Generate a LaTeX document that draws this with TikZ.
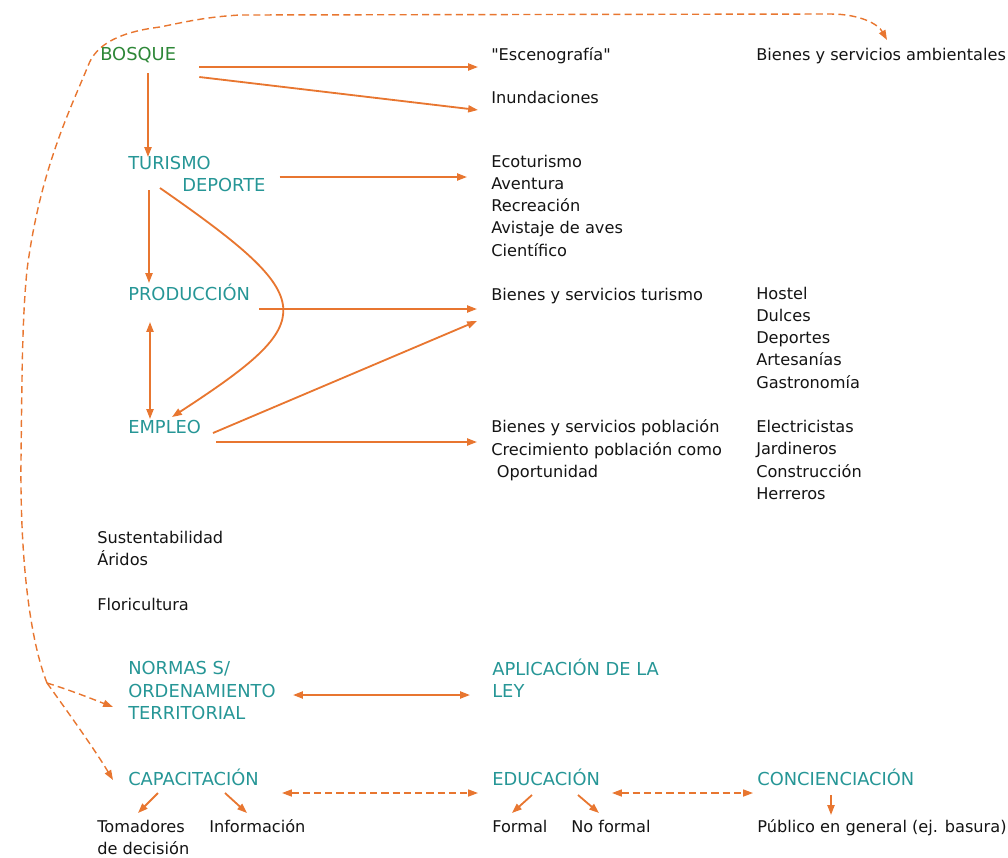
\documentclass[tikz,border=0pt]{standalone}
\usepackage{fontspec}
\setmainfont{DejaVu Sans}
\usepackage{xcolor}
\usetikzlibrary{arrows.meta, calc}

\definecolor{flecha}{RGB}{232,118,48}
\definecolor{titulo}{RGB}{38,150,150}
\definecolor{verde}{RGB}{45,135,55}
\definecolor{texto}{RGB}{20,20,20}

\begin{document}
\begin{tikzpicture}[x=0.025cm, y=-0.025cm,
        every node/.style={inner sep=0pt, anchor=base west, align=left},
        tema/.style={text=titulo, font=\fontsize{12.7}{15.65}\selectfont},
        item/.style={text=texto, font=\fontsize{11.5}{15.65}\selectfont},
        link/.style={draw=flecha, line width=1.3pt, -{Triangle[length=7pt,width=5pt]}},
        dlink/.style={link, line width=1pt, dash pattern=on 5pt off 3pt}]
        \useasboundingbox (0,0) rectangle (1008,857);

        % temas (multi-line nodes sit on their last line)
        \node[tema, text=verde] (bosque) at (100,60) {BOSQUE};
        \node[tema] (turismo) at (128,169) {TURISMO};
        \node[tema] (deporte) at (182,191) {DEPORTE};
        \node[tema] (produccion) at (128,300) {PRODUCCIÓN};
        \node[tema] (empleo) at (128,433) {EMPLEO};
        \node[tema] (normas) at (128,719) {NORMAS S/\\ORDENAMIENTO\\TERRITORIAL};
        \node[tema] (aplicacion) at (492,697) {APLICACIÓN DE LA\\LEY};
        \node[tema] (capacitacion) at (128,785) {CAPACITACIÓN};
        \node[tema] (educacion) at (492,785) {EDUCACIÓN};
        \node[tema] (concienciacion) at (757,785) {CONCIENCIACIÓN};

        % textos
        \node[item] (escen) at (491,60) {\textquotedbl Escenografía\textquotedbl};
        \node[item] (amb) at (756,60) {Bienes y servicios ambientales};
        \node[item] (inund) at (491,103) {Inundaciones};
        \node[item] (activ) at (491,256) {Ecoturismo\\Aventura\\Recreación\\Avistaje de aves\\Científico};
        \node[item] (bsturismo) at (491,300) {Bienes y servicios turismo};
        \node[item] (rubros) at (756,388) {Hostel\\Dulces\\Deportes\\Artesanías\\Gastronomía};
        \node[item] (bspoblacion) at (491,477) {Bienes y servicios población\\Crecimiento población como\\\hspace{4pt}Oportunidad};
        \node[item] (oficios) at (756,499) {Electricistas\\Jardineros\\Construcción\\Herreros};
        \node[item] (otros) at (97,565) {Sustentabilidad\\Áridos};
        \node[item] (flori) at (97,610) {Floricultura};
        \node[item] (tomadores) at (97,854) {Tomadores\\de decisión};
        \node[item] (informacion) at (209,832) {Información};
        \node[item] (formal) at (492,832) {Formal};
        \node[item] (noformal) at (571,832) {No formal};
        \node[item] (publico) at (757,832) {Público en general (ej. basura)};

        % flechas
        \draw[link] ($(bosque.base east)+(23,7)$) -- ($(escen.base west)+(-13,7)$);
        \draw[link] ($(bosque.base east)+(23,17)$) -- ($(inund.base west)+(-13,7)$);
        \draw[link] ($(bosque.base west)+(48,13)$) -- ($(turismo.base west)+(20,-12)$);
        \draw[link] ($(deporte.base east)+(14,-14)$) -- ($(activ.base west)+(-24,-79)$);
        \draw[link] ($(turismo.base west)+(21,21)$) -- ($(produccion.base west)+(21,-17)$);
        \draw[link] ($(turismo.base west)+(32,19)$) .. controls +(161,112) and +(149,-97) .. ($(empleo.base west)+(44,-16)$);
        \draw[link] ($(produccion.base west)+(131,9)$) -- ($(bsturismo.base west)+(-14,9)$);
        \draw[link] ($(empleo.base west)+(85,0)$) -- ($(bsturismo.base west)+(-14,21)$);
        \draw[link, {Triangle[length=7pt,width=5pt]}-{Triangle[length=7pt,width=5pt]}] ($(produccion.base west)+(22,22)$) -- ($(empleo.base west)+(22,-14)$);
        \draw[link] ($(empleo.base west)+(88,9)$) -- ($(bspoblacion.base west)+(-14,-35)$);
        \draw[link, {Triangle[length=7pt,width=5pt]}-{Triangle[length=7pt,width=5pt]}] ($(normas.base west)+(165,-24)$) -- ($(aplicacion.base west)+(-22,-2)$);

        % flechas punteadas
        \draw[dlink, {Triangle[length=7pt,width=5pt]}-{Triangle[length=7pt,width=5pt]}] ($(capacitacion.base west)+(154,8)$) -- ($(educacion.base west)+(-14,8)$);
        \draw[dlink, {Triangle[length=7pt,width=5pt]}-{Triangle[length=7pt,width=5pt]}] ($(educacion.base west)+(120,8)$) -- ($(concienciacion.base west)+(-4,8)$);

        \coordinate (split) at (47,683);
        \draw[dlink] (split) .. controls (30,640) and (20,560) .. (21,460)
            .. controls (22,380) and (22,320) .. (27,270)
            .. controls (40,170) and (70,110) .. (88,66)
            .. controls (96,44) and (120,32) .. (160,27)
            .. controls (185,22) and (205,17) .. (240,15)
            -- (830,14) .. controls (860,14) and (878,24) .. ($(amb.base west)+(131,-20)$);
        \draw[dlink] (split) .. controls (70,690) and (95,700) .. ($(normas.base west)+(-15,-12)$);
        \draw[dlink] (split) .. controls (70,715) and (95,750) .. ($(capacitacion.base west)+(-15,-5)$);

        % ramas
        \draw[link] ($(capacitacion.base west)+(30,8)$) -- ($(tomadores.base west)+(41,-41)$);
        \draw[link] ($(capacitacion.base west)+(97,8)$) -- ($(informacion.base west)+(38,-19)$);
        \draw[link] ($(educacion.base west)+(40,10)$) -- ($(formal.base west)+(20,-19)$);
        \draw[link] ($(educacion.base west)+(86,10)$) -- ($(noformal.base west)+(28,-19)$);
        \draw[link] ($(concienciacion.base west)+(74,10)$) -- ($(publico.base west)+(74,-17)$);
\end{tikzpicture}
\end{document}
